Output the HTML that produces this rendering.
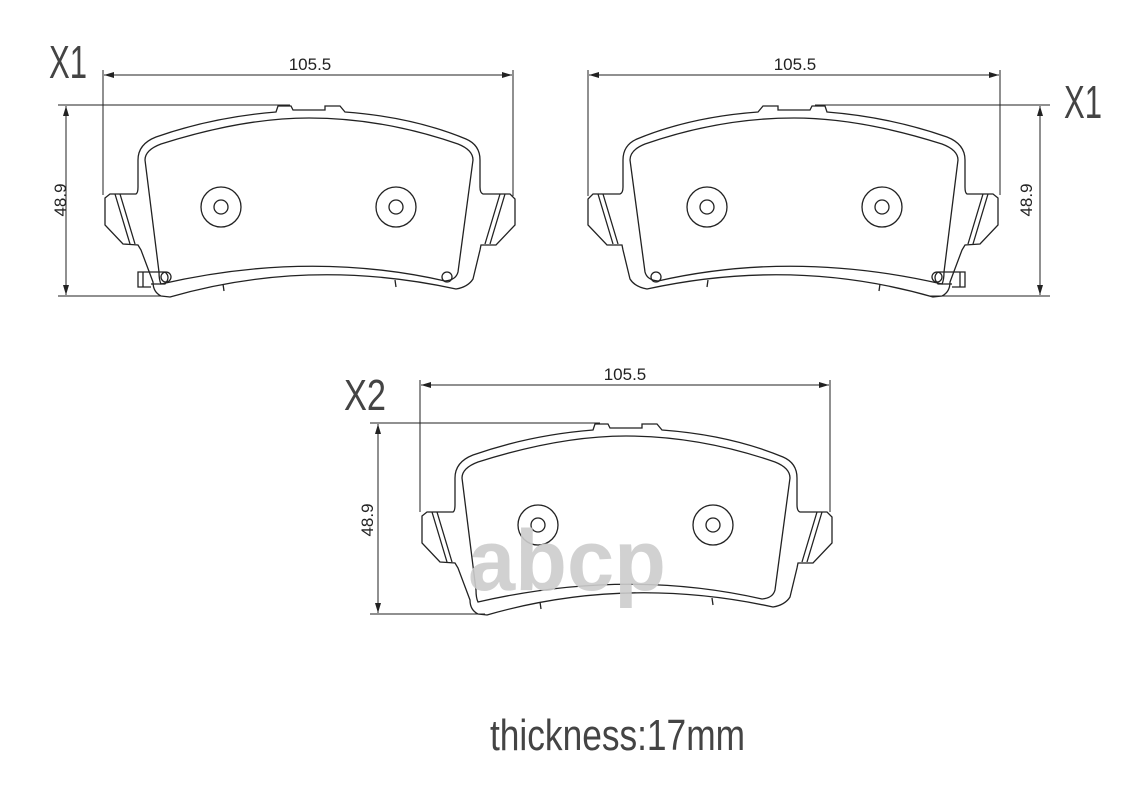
<!DOCTYPE html>
<html><head><meta charset="utf-8"><style>
html,body{margin:0;padding:0;background:#fff;}
svg{display:block;}
text{font-family:"Liberation Sans",sans-serif;fill:#222;}
</style></head><body>
<svg width="1141" height="800" viewBox="0 0 1141 800" xmlns="http://www.w3.org/2000/svg">
<defs>
<marker id="ar" viewBox="0 0 10 6" refX="10" refY="3" markerWidth="10" markerHeight="6" orient="auto-start-reverse" markerUnits="userSpaceOnUse">
<path d="M0,0 L10,3 L0,6 Z" fill="#222"/>
</marker>
<g id="pad" fill="none" stroke="#222" stroke-width="1.3">
<!-- outer backplate -->
<path d="M422,516 L427,512 L453,512 Q455,511 455,505 L455,478 Q455,462 473,455 Q530,435 593,430 L595,424 L608,424 L610,428 L642,428 L642,424 L657,424 L662,430 Q730,435 783,457 Q797,463 797,478 L797,505 Q797,511 800,512 L827,512 L832,517 L832,543 L813,563 L798,563 L797,568 L790,597 Q785,605 773,607 Q626,575 487,615 L478,614 Q470,610 470,600 L458,568 L455,563 L440,562 L422,543 Z"/>
<!-- notches on bottom -->
<path d="M540,602 L541,609 M712,598 L713,605"/>
<!-- inner friction -->
<path d="M462,478 Q462,468 478,462 Q560,436 626,436 Q700,436 775,462 Q790,468 790,478 L775,590 Q773,598 762,599 Q626,568 478,602 Q476,598 476,590 Z"/>
<!-- ear stripes -->
<path d="M432,512 L447,562 M437,512 L452,562 M822,512 L807,562 M817,512 L802,562"/>
<circle cx="538" cy="525" r="20"/><circle cx="538" cy="525" r="7"/>
<circle cx="713" cy="525" r="20"/><circle cx="713" cy="525" r="7"/>
</g>
<g id="clips" fill="none" stroke="#222" stroke-width="1.3">
<path d="M468,590 L455,590 L455,605 L468,605 M460,590 L460,605"/>
<path d="M468,590 L482,590 Q488,595 482,602 L468,602"/>
<circle cx="483" cy="595" r="5"/>
<circle cx="764" cy="595" r="5"/>
</g>
</defs>

<g transform="translate(-317,-318)"><use href="#pad"/><use href="#clips"/></g>
<g transform="translate(1420,-318) scale(-1,1)"><use href="#pad"/><use href="#clips"/></g>
<use href="#pad"/>

<g stroke="#222" stroke-width="1" fill="none">
<line x1="103" y1="70" x2="103" y2="195"/>
<line x1="513" y1="70" x2="513" y2="196"/>
<line x1="104" y1="75" x2="512" y2="75" marker-start="url(#ar)" marker-end="url(#ar)"/>
<line x1="58" y1="105" x2="290" y2="105"/>
<line x1="58" y1="296" x2="162" y2="296"/>
<line x1="66" y1="106" x2="66" y2="295" marker-start="url(#ar)" marker-end="url(#ar)"/>
<line x1="588" y1="70" x2="588" y2="196"/>
<line x1="1000" y1="70" x2="1000" y2="195"/>
<line x1="589" y1="75" x2="999" y2="75" marker-start="url(#ar)" marker-end="url(#ar)"/>
<line x1="815" y1="105" x2="1050" y2="105"/>
<line x1="930" y1="296" x2="1050" y2="296"/>
<line x1="1040" y1="106" x2="1040" y2="295" marker-start="url(#ar)" marker-end="url(#ar)"/>
<line x1="420" y1="380" x2="420" y2="512"/>
<line x1="830" y1="380" x2="830" y2="512"/>
<line x1="421" y1="385" x2="829" y2="385" marker-start="url(#ar)" marker-end="url(#ar)"/>
<line x1="370" y1="423" x2="600" y2="423"/>
<line x1="370" y1="614" x2="485" y2="614"/>
<line x1="378" y1="424" x2="378" y2="613" marker-start="url(#ar)" marker-end="url(#ar)"/>
</g>

<text x="310" y="70" font-size="17" text-anchor="middle">105.5</text>
<text x="795" y="70" font-size="17" text-anchor="middle">105.5</text>
<text x="625" y="380" font-size="17" text-anchor="middle">105.5</text>
<text transform="translate(66,200) rotate(-90)" font-size="17" text-anchor="middle">48.9</text>
<text transform="translate(1032,200) rotate(-90)" font-size="17" text-anchor="middle">48.9</text>
<text transform="translate(373,520) rotate(-90)" font-size="17" text-anchor="middle">48.9</text>

<text x="49" y="78" font-size="46" textLength="38" lengthAdjust="spacingAndGlyphs" style="fill:#444">X1</text>
<text x="1064" y="118" font-size="46" textLength="38" lengthAdjust="spacingAndGlyphs" style="fill:#444">X1</text>
<text x="344" y="410" font-size="44" textLength="42" lengthAdjust="spacingAndGlyphs" style="fill:#444">X2</text>

<text x="468" y="590" font-size="86" font-weight="bold" style="fill:#cdcdcd" textLength="198" lengthAdjust="spacingAndGlyphs" opacity="0.9">abcp</text>

<text x="490" y="750" font-size="44" textLength="255" lengthAdjust="spacingAndGlyphs" style="fill:#444">thickness:17mm</text>
</svg>
</body></html>
